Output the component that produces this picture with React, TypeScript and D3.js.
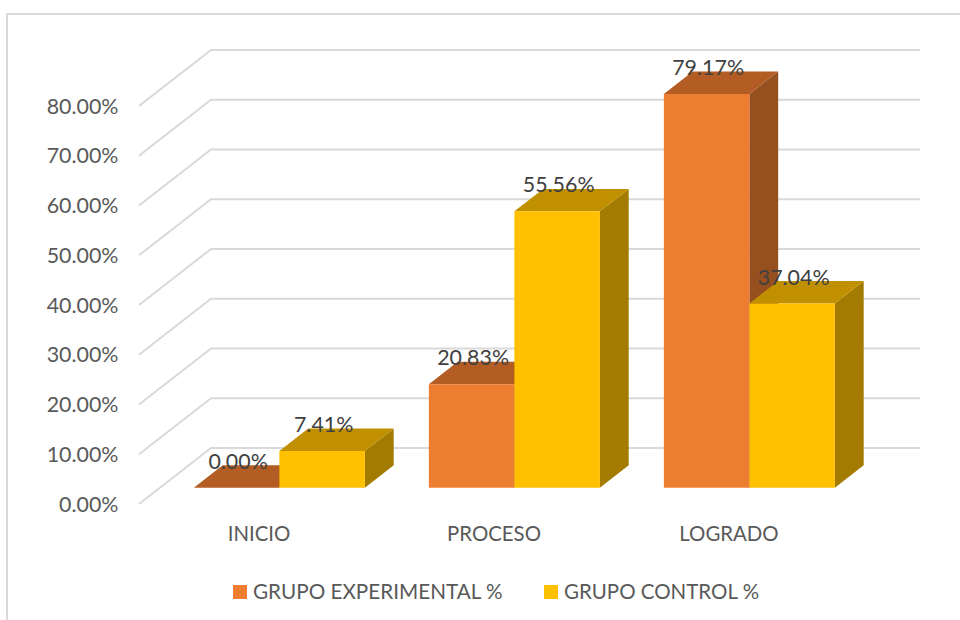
import React from "react";
import * as d3 from "d3";

const categories = ["INICIO", "PROCESO", "LOGRADO"];
const seriesNames = ["GRUPO EXPERIMENTAL %", "GRUPO CONTROL %"];
const experimental = [0, 20.83, 79.17];
const control = [7.41, 55.56, 37.04];
const ticks = [0, 10, 20, 30, 40, 50, 60, 70, 80];

const FONT = "Lato, 'Open Sans', sans-serif";
const faces = [
  { front: "#ED7D31", top: "#B35D24", side: "#964F1F" },
  { front: "#FFC000", top: "#C09000", side: "#A37B00" },
];
const GRID = "#D9D9D9";
const TEXT = "#595959";
const LABEL = "#404040";

const plotLeft = 139;
const plotRight = 848;
const y = d3.scaleLinear().domain([0, 80]).range([504, 106]);
const x = d3.scaleBand<string>().domain(categories).range([141, 846]);
const sub = d3.scaleBand<string>().domain(seriesNames).range([0, x.bandwidth()]).paddingOuter(0.374).paddingInner(0);

const fullDepth = { dx: 72, dy: -56 };
const barNear = 0.29;
const barFar = 0.69;
const pt = (px: number, py: number, d: number): [number, number] => [px + fullDepth.dx * d, py + fullDepth.dy * d];
const poly = (pts: [number, number][]) => d3.line()(pts)! + "Z";
const fmt = (v: number) => v.toFixed(2) + "%";

export default function App() {
  const bars = categories.flatMap((c, i) =>
    seriesNames.map((s, j) => {
      const v = (j === 0 ? experimental : control)[i];
      const x0 = x(c)! + sub(s)!;
      const x1 = x0 + sub.bandwidth();
      return { key: c + s, j, v, x0, x1, yTop: y(v), yBase: y(0) };
    })
  );
  return (
    <svg
      width={960}
      height={620}
      style={{ position: "absolute", left: 0, top: 0, background: "#fff" }}
      fontFamily={FONT}
    >
      <path d="M7 620V14H960" fill="none" stroke={GRID} strokeWidth={2} />
      {ticks.map((t) => {
        const a = pt(plotLeft, y(t), 0);
        const b = pt(plotLeft, y(t), 1);
        const c = pt(plotRight, y(t), 1);
        return <path key={t} d={d3.line()([a, b, c])!} fill="none" stroke={GRID} strokeWidth={2} />;
      })}
      {ticks.map((t) => (
        <text key={t} x={118.5} y={y(t) + 7.5} textAnchor="end" fontSize={21.4} fill={TEXT}>
          {fmt(t)}
        </text>
      ))}
      {bars.map((b) => {
        const f = faces[b.j];
        const tl = pt(b.x0, b.yTop, barNear);
        const tr = pt(b.x1, b.yTop, barNear);
        const br = pt(b.x1, b.yBase, barNear);
        const bl = pt(b.x0, b.yBase, barNear);
        const tlb = pt(b.x0, b.yTop, barFar);
        const trb = pt(b.x1, b.yTop, barFar);
        const brb = pt(b.x1, b.yBase, barFar);
        return (
          <g key={b.key}>
            <path d={poly([tr, trb, brb, br])} fill={f.side} />
            <path d={poly([tl, tlb, trb, tr])} fill={f.top} />
            <path d={poly([tl, tr, br, bl])} fill={f.front} />
          </g>
        );
      })}
      {bars.map((b) => {
        const [lx] = pt((b.x0 + b.x1) / 2, b.yTop, barNear);
        const [, ly] = pt(b.x0, b.yTop, barFar);
        return (
          <text key={b.key} x={lx + 1.5} y={ly + 3.5} textAnchor="middle" fontSize={21.4} fill={LABEL}>
            {fmt(b.v)}
          </text>
        );
      })}
      {categories.map((c) => (
        <text key={c} x={x(c)! + x.bandwidth() / 2 + 0.5} y={541} textAnchor="middle" fontSize={20.4} fill={TEXT}>
          {c}
        </text>
      ))}
      <rect x={233} y={585} width={14} height={14} fill={faces[0].front} />
      <text x={253} y={599} fontSize={20.7} fill={TEXT}>{seriesNames[0]}</text>
      <rect x={544} y={585} width={14} height={14} fill={faces[1].front} />
      <text x={564} y={599} fontSize={20.5} fill={TEXT}>{seriesNames[1]}</text>
    </svg>
  );
}
